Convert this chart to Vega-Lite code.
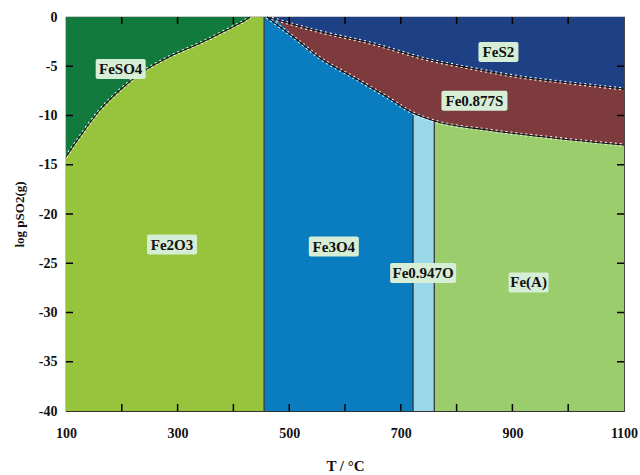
{
  "$schema": "https://vega.github.io/schema/vega-lite/v6.json",
  "width": 558,
  "height": 394,
  "autosize": {"type": "none"},
  "padding": {"left": 66, "top": 17, "right": 16, "bottom": 64},
  "background": "white",
  "config": {"view": {"stroke": "#333333", "strokeWidth": 1.2}, "font": "'Liberation Serif', 'Times New Roman', serif"},
  "datasets": {
    "regions": [
      {"phase": "FeS", "T": 460, "y": -40, "y2": 0},
      {"phase": "FeS", "T": 555, "y": -40, "y2": -1.49},
      {"phase": "FeS", "T": 645, "y": -40, "y2": -2.64},
      {"phase": "FeS", "T": 752, "y": -40, "y2": -4.37},
      {"phase": "FeS", "T": 824, "y": -40, "y2": -5.18},
      {"phase": "FeS", "T": 914, "y": -40, "y2": -6.09},
      {"phase": "FeS", "T": 1003, "y": -40, "y2": -6.7},
      {"phase": "FeS", "T": 1100, "y": -40, "y2": -7.31},
      {"phase": "FeS2", "T": 460, "y": 0, "y2": 0},
      {"phase": "FeS2", "T": 555, "y": -1.49, "y2": 0},
      {"phase": "FeS2", "T": 645, "y": -2.64, "y2": 0},
      {"phase": "FeS2", "T": 752, "y": -4.37, "y2": 0},
      {"phase": "FeS2", "T": 824, "y": -5.18, "y2": 0},
      {"phase": "FeS2", "T": 914, "y": -6.09, "y2": 0},
      {"phase": "FeS2", "T": 1003, "y": -6.7, "y2": 0},
      {"phase": "FeS2", "T": 1100, "y": -7.31, "y2": 0},
      {"phase": "FeSO4", "T": 100, "y": -14.2, "y2": 0},
      {"phase": "FeSO4", "T": 125, "y": -12.15, "y2": 0},
      {"phase": "FeSO4", "T": 161, "y": -9.44, "y2": 0},
      {"phase": "FeSO4", "T": 197, "y": -7.41, "y2": 0},
      {"phase": "FeSO4", "T": 238, "y": -5.55, "y2": 0},
      {"phase": "FeSO4", "T": 286, "y": -4.03, "y2": 0},
      {"phase": "FeSO4", "T": 340, "y": -2.67, "y2": 0},
      {"phase": "FeSO4", "T": 388, "y": -1.32, "y2": 0},
      {"phase": "FeSO4", "T": 424, "y": -0.23, "y2": 0},
      {"phase": "FeSO4", "T": 430, "y": 0, "y2": 0},
      {"phase": "Fe2O3", "T": 100, "y": -40, "y2": -14.2},
      {"phase": "Fe2O3", "T": 125, "y": -40, "y2": -12.15},
      {"phase": "Fe2O3", "T": 161, "y": -40, "y2": -9.44},
      {"phase": "Fe2O3", "T": 197, "y": -40, "y2": -7.41},
      {"phase": "Fe2O3", "T": 238, "y": -40, "y2": -5.55},
      {"phase": "Fe2O3", "T": 286, "y": -40, "y2": -4.03},
      {"phase": "Fe2O3", "T": 340, "y": -40, "y2": -2.67},
      {"phase": "Fe2O3", "T": 388, "y": -40, "y2": -1.32},
      {"phase": "Fe2O3", "T": 424, "y": -40, "y2": -0.23},
      {"phase": "Fe2O3", "T": 430, "y": -40, "y2": 0},
      {"phase": "Fe2O3", "T": 455, "y": -40, "y2": 0},
      {"phase": "Fe3O4", "T": 455, "y": -40, "y2": 0},
      {"phase": "Fe3O4", "T": 460, "y": -40, "y2": 0},
      {"phase": "Fe3O4", "T": 519, "y": -40, "y2": -2.54},
      {"phase": "Fe3O4", "T": 555, "y": -40, "y2": -4.16},
      {"phase": "Fe3O4", "T": 614, "y": -40, "y2": -6.09},
      {"phase": "Fe3O4", "T": 675, "y": -40, "y2": -8.12},
      {"phase": "Fe3O4", "T": 722, "y": -40, "y2": -9.75},
      {"phase": "Fe0.947O", "T": 722, "y": -40, "y2": -9.75},
      {"phase": "Fe0.947O", "T": 760, "y": -40, "y2": -10.56},
      {"phase": "Fe(A)", "T": 760, "y": -40, "y2": -10.56},
      {"phase": "Fe(A)", "T": 855, "y": -40, "y2": -11.47},
      {"phase": "Fe(A)", "T": 973, "y": -40, "y2": -12.28},
      {"phase": "Fe(A)", "T": 1100, "y": -40, "y2": -13.0}
    ],
    "bounds": [
      {"b": "c", "T": 100, "y": -14.2},
      {"b": "c", "T": 125, "y": -12.15},
      {"b": "c", "T": 161, "y": -9.44},
      {"b": "c", "T": 197, "y": -7.41},
      {"b": "c", "T": 238, "y": -5.55},
      {"b": "c", "T": 286, "y": -4.03},
      {"b": "c", "T": 340, "y": -2.67},
      {"b": "c", "T": 388, "y": -1.32},
      {"b": "c", "T": 424, "y": -0.23},
      {"b": "c", "T": 430, "y": 0},
      {"b": "u", "T": 460, "y": 0},
      {"b": "u", "T": 555, "y": -1.49},
      {"b": "u", "T": 645, "y": -2.64},
      {"b": "u", "T": 752, "y": -4.37},
      {"b": "u", "T": 824, "y": -5.18},
      {"b": "u", "T": 914, "y": -6.09},
      {"b": "u", "T": 1003, "y": -6.7},
      {"b": "u", "T": 1100, "y": -7.31},
      {"b": "l", "T": 460, "y": 0},
      {"b": "l", "T": 519, "y": -2.54},
      {"b": "l", "T": 555, "y": -4.16},
      {"b": "l", "T": 614, "y": -6.09},
      {"b": "l", "T": 675, "y": -8.12},
      {"b": "l", "T": 722, "y": -9.75},
      {"b": "l", "T": 760, "y": -10.56},
      {"b": "l", "T": 855, "y": -11.47},
      {"b": "l", "T": 973, "y": -12.28},
      {"b": "l", "T": 1100, "y": -13.0}
    ],
    "verticals": [
      {"T": 455, "y": -40, "y2": 0},
      {"T": 722, "y": -40, "y2": -9.75},
      {"T": 760, "y": -40, "y2": -10.56}
    ],
    "xticks": [{"T": 200}, {"T": 300}, {"T": 400}, {"T": 500}, {"T": 600}, {"T": 700}, {"T": 800}, {"T": 900}, {"T": 1000}],
    "yticks": [{"y": -5}, {"y": -10}, {"y": -15}, {"y": -20}, {"y": -25}, {"y": -30}, {"y": -35}],
    "labels": [
      {"label": "FeSO4", "T": 198, "y": -5.28},
      {"label": "FeS2", "T": 875, "y": -3.55},
      {"label": "Fe0.877S", "T": 832, "y": -8.5},
      {"label": "Fe2O3", "T": 290, "y": -23.1},
      {"label": "Fe3O4", "T": 580, "y": -23.3},
      {"label": "Fe0.947O", "T": 740, "y": -26.0},
      {"label": "Fe(A)", "T": 929, "y": -26.95}
    ]
  },
  "layer": [
    {
      "data": {"name": "regions"},
      "transform": [{"filter": "datum.phase == 'FeS'"}],
      "mark": {"type": "area", "opacity": 1, "interpolate": "monotone"},
      "encoding": {
        "x": {"field": "T", "type": "quantitative", "scale": {"domain": [100, 1100], "nice": false, "zero": false},
          "axis": {"values": [100, 300, 500, 700, 900, 1100], "labelExpr": "'' + datum.value",
            "grid": false, "domain": false, "ticks": false, "labelFlush": false,
            "labelFont": "'Liberation Serif', serif", "labelFontWeight": "bold", "labelFontSize": 14, "labelColor": "#111111", "labelPadding": 15,
            "title": "T / °C", "titleFont": "'Liberation Serif', serif", "titleFontWeight": "bold", "titleFontSize": 15, "titleColor": "#111111", "titlePadding": 18}},
        "y": {"field": "y", "type": "quantitative", "scale": {"domain": [-40, 0], "nice": false, "zero": false},
          "axis": {"values": [0, -5, -10, -15, -20, -25, -30, -35, -40], "labelExpr": "'' + datum.value",
            "grid": false, "domain": false, "ticks": false, "labelFlush": false,
            "labelFont": "'Liberation Serif', serif", "labelFontWeight": "bold", "labelFontSize": 14, "labelColor": "#111111", "labelPadding": 9,
            "title": "log pSO2(g)", "titleFont": "'Liberation Serif', serif", "titleFontWeight": "bold", "titleFontSize": 13, "titleColor": "#111111", "titlePadding": 12}},
        "y2": {"field": "y2"},
        "color": {"field": "phase", "type": "nominal", "legend": null,
          "scale": {"domain": ["FeS", "FeS2", "FeSO4", "Fe2O3", "Fe3O4", "Fe0.947O", "Fe(A)"],
            "range": ["#7d3b3d", "#1e4185", "#117a3c", "#96c53d", "#0a7dc1", "#9bd8e9", "#9bcd6d"]}}
      }
    },
    {
      "data": {"name": "regions"},
      "transform": [{"filter": "datum.phase != 'FeS'"}],
      "mark": {"type": "area", "opacity": 1, "interpolate": "monotone"},
      "encoding": {
        "x": {"field": "T", "type": "quantitative", "scale": {"domain": [100, 1100], "nice": false, "zero": false}, "axis": null},
        "y": {"field": "y", "type": "quantitative", "scale": {"domain": [-40, 0], "nice": false, "zero": false}, "axis": null},
        "y2": {"field": "y2"},
        "color": {"field": "phase", "type": "nominal", "legend": null}
      }
    },
    {
      "data": {"name": "verticals"},
      "mark": {"type": "rule", "color": "#333333", "strokeWidth": 1.2},
      "encoding": {
        "x": {"field": "T", "type": "quantitative", "scale": {"domain": [100, 1100], "nice": false, "zero": false}, "axis": null},
        "y": {"field": "y", "type": "quantitative", "scale": {"domain": [-40, 0], "nice": false, "zero": false}, "axis": null},
        "y2": {"field": "y2"}
      }
    },
    {
      "data": {"name": "bounds"},
      "mark": {"type": "line", "color": "#f4f4f4", "strokeWidth": 3.2, "strokeDash": [2, 3], "interpolate": "monotone"},
      "encoding": {
        "x": {"field": "T", "type": "quantitative", "scale": {"domain": [100, 1100], "nice": false, "zero": false}, "axis": null},
        "y": {"field": "y", "type": "quantitative", "scale": {"domain": [-40, 0], "nice": false, "zero": false}, "axis": null},
        "detail": {"field": "b"}
      }
    },
    {
      "data": {"name": "bounds"},
      "mark": {"type": "line", "color": "#111111", "strokeWidth": 1.1, "interpolate": "monotone"},
      "encoding": {
        "x": {"field": "T", "type": "quantitative", "scale": {"domain": [100, 1100], "nice": false, "zero": false}, "axis": null},
        "y": {"field": "y", "type": "quantitative", "scale": {"domain": [-40, 0], "nice": false, "zero": false}, "axis": null},
        "detail": {"field": "b"}
      }
    },
    {
      "data": {"name": "xticks"},
      "mark": {"type": "tick", "orient": "vertical", "size": 14, "thickness": 1.5, "color": "#000000", "clip": true, "opacity": 1},
      "encoding": {
        "x": {"field": "T", "type": "quantitative", "scale": {"domain": [100, 1100], "nice": false, "zero": false}, "axis": null},
        "y": {"datum": -40, "type": "quantitative", "scale": {"domain": [-40, 0], "nice": false, "zero": false}, "axis": null}
      }
    },
    {
      "data": {"name": "xticks"},
      "mark": {"type": "tick", "orient": "vertical", "size": 14, "thickness": 1.5, "color": "#000000", "clip": true, "opacity": 1},
      "encoding": {
        "x": {"field": "T", "type": "quantitative", "scale": {"domain": [100, 1100], "nice": false, "zero": false}, "axis": null},
        "y": {"datum": 0, "type": "quantitative", "scale": {"domain": [-40, 0], "nice": false, "zero": false}, "axis": null}
      }
    },
    {
      "data": {"name": "yticks"},
      "mark": {"type": "tick", "orient": "horizontal", "size": 14, "thickness": 1.5, "color": "#000000", "clip": true, "opacity": 1},
      "encoding": {
        "x": {"datum": 100, "type": "quantitative", "scale": {"domain": [100, 1100], "nice": false, "zero": false}, "axis": null},
        "y": {"field": "y", "type": "quantitative", "scale": {"domain": [-40, 0], "nice": false, "zero": false}, "axis": null}
      }
    },
    {
      "data": {"name": "yticks"},
      "mark": {"type": "tick", "orient": "horizontal", "size": 14, "thickness": 1.5, "color": "#000000", "clip": true, "opacity": 1},
      "encoding": {
        "x": {"datum": 1100, "type": "quantitative", "scale": {"domain": [100, 1100], "nice": false, "zero": false}, "axis": null},
        "y": {"field": "y", "type": "quantitative", "scale": {"domain": [-40, 0], "nice": false, "zero": false}, "axis": null}
      }
    },
    {
      "data": {"name": "labels"},
      "transform": [{"filter": {"field": "label", "oneOf": ["FeS2", "Fe(A)"]}}],
      "mark": {"type": "rect", "width": 40, "height": 20, "color": "#d6edd6", "cornerRadius": 2},
      "encoding": {
        "x": {"field": "T", "type": "quantitative", "scale": {"domain": [100, 1100], "nice": false, "zero": false}, "axis": null},
        "y": {"field": "y", "type": "quantitative", "scale": {"domain": [-40, 0], "nice": false, "zero": false}, "axis": null}
      }
    },
    {
      "data": {"name": "labels"},
      "transform": [{"filter": {"field": "label", "oneOf": ["FeSO4", "Fe2O3", "Fe3O4"]}}],
      "mark": {"type": "rect", "width": 50, "height": 20, "color": "#d6edd6", "cornerRadius": 2},
      "encoding": {
        "x": {"field": "T", "type": "quantitative", "scale": {"domain": [100, 1100], "nice": false, "zero": false}, "axis": null},
        "y": {"field": "y", "type": "quantitative", "scale": {"domain": [-40, 0], "nice": false, "zero": false}, "axis": null}
      }
    },
    {
      "data": {"name": "labels"},
      "transform": [{"filter": {"field": "label", "oneOf": ["Fe0.877S", "Fe0.947O"]}}],
      "mark": {"type": "rect", "width": 66, "height": 20, "color": "#d6edd6", "cornerRadius": 2},
      "encoding": {
        "x": {"field": "T", "type": "quantitative", "scale": {"domain": [100, 1100], "nice": false, "zero": false}, "axis": null},
        "y": {"field": "y", "type": "quantitative", "scale": {"domain": [-40, 0], "nice": false, "zero": false}, "axis": null}
      }
    },
    {
      "data": {"name": "labels"},
      "mark": {"type": "text", "font": "'Liberation Serif', serif", "fontWeight": "bold", "fontSize": 15, "color": "#111111", "align": "center", "baseline": "middle"},
      "encoding": {
        "x": {"field": "T", "type": "quantitative", "scale": {"domain": [100, 1100], "nice": false, "zero": false}, "axis": null},
        "y": {"field": "y", "type": "quantitative", "scale": {"domain": [-40, 0], "nice": false, "zero": false}, "axis": null},
        "text": {"field": "label"}
      }
    }
  ],
  "resolve": {"axis": {"x": "independent", "y": "independent"}}
}
